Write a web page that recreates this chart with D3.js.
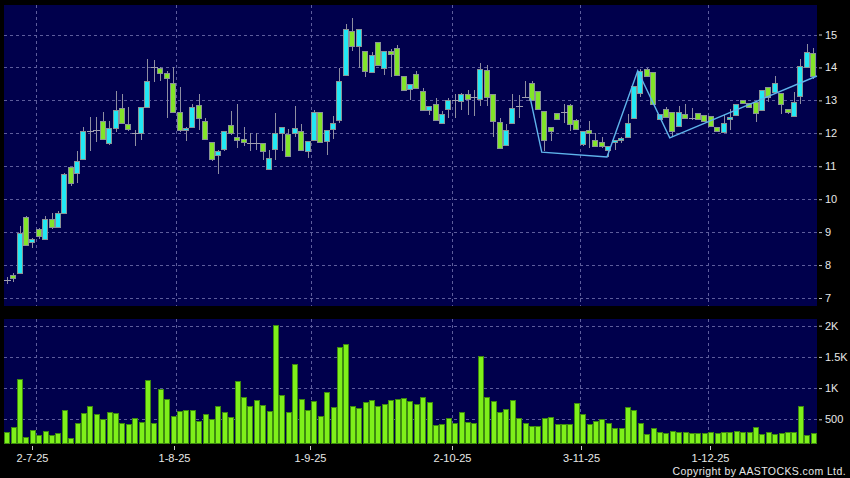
<!DOCTYPE html>
<html>
<head>
<meta charset="utf-8">
<script src="https://cdn.jsdelivr.net/npm/d3@7/dist/d3.min.js"></script>
<style>
  html, body { margin: 0; padding: 0; background: #000; }
  svg { display: block; }
  text { font-family: "Liberation Sans", Arial, sans-serif; fill: #e8e8e8; }
</style>
</head>
<body>
<div id="chart"></div>
<script>
var width = 850;
var height = 478;

// daily bars, 24-6-25 .. 23-12-25
var opens = [7.55, 7.71, 7.76, 9.46, 8.70, 9.08, 8.80, 9.40, 9.16, 9.58,
	10.98, 10.80, 11.23, 12.07, 12.09, 12.38, 11.72, 12.17, 12.78, 12.27,
	12.00, 12.00, 12.81, 14.00, 13.98, 13.82, 13.54, 12.66, 12.12, 12.20,
	12.85, 12.37, 11.73, 11.33, 11.51, 12.24, 11.90, 11.83, 11.72, 11.72,
	11.72, 10.92, 11.53, 12.01, 11.98, 12.01, 12.06, 11.45, 11.81, 12.66,
	11.78, 12.12, 12.41, 13.78, 15.10, 14.65, 14.51, 13.86, 14.77, 13.98,
	14.51, 14.58, 13.73, 13.35, 13.81, 13.29, 12.70, 12.90, 12.30, 12.73,
	13.00, 12.99, 13.20, 13.10, 13.04, 13.91, 13.20, 12.35, 11.65, 12.31,
	12.82, 13.11, 13.52, 13.27, 12.67, 12.18, 12.61, 12.64, 12.87, 12.41,
	11.68, 12.11, 11.81, 11.73, 11.48, 11.73, 11.80, 11.88, 12.46, 13.23,
	13.95, 13.86, 12.43, 12.73, 12.65, 12.21, 12.60, 12.48, 12.62, 12.57,
	12.52, 12.20, 12.05, 12.45, 12.55, 13.00, 12.92, 12.95, 12.70, 13.40,
	13.25, 13.22, 12.75, 12.53, 13.13, 14.00, 14.45];
var highs = [7.65, 7.76, 9.18, 9.48, 8.82, 9.13, 9.48, 9.58, 9.63, 10.80,
	10.98, 11.46, 12.19, 12.50, 12.50, 12.66, 12.38, 13.27, 13.20, 12.81,
	12.10, 12.81, 14.25, 14.22, 14.00, 13.88, 14.00, 13.40, 12.20, 12.90,
	13.18, 12.46, 11.73, 11.50, 12.08, 12.67, 12.90, 12.20, 12.00, 12.00,
	11.72, 11.50, 12.61, 12.20, 12.13, 12.82, 12.29, 11.76, 12.72, 12.66,
	12.11, 12.52, 13.98, 15.32, 15.50, 15.17, 14.51, 14.46, 14.77, 14.51,
	14.55, 14.69, 13.73, 13.50, 13.90, 13.39, 12.84, 13.07, 12.68, 13.08,
	13.18, 13.23, 13.30, 13.33, 14.12, 14.07, 13.20, 12.48, 12.28, 13.20,
	13.15, 13.60, 13.60, 13.27, 12.67, 12.20, 12.63, 12.90, 12.90, 12.42,
	12.08, 12.38, 12.01, 11.90, 11.61, 11.81, 11.90, 12.58, 13.45, 13.95,
	13.97, 13.86, 12.60, 12.81, 12.65, 12.83, 12.88, 12.77, 12.62, 12.57,
	12.52, 12.20, 12.55, 12.75, 12.88, 13.00, 12.92, 12.95, 13.32, 13.40,
	13.73, 13.22, 12.75, 13.25, 14.25, 14.70, 14.60];
var lows = [7.42, 7.50, 7.74, 8.58, 8.52, 8.80, 8.80, 9.09, 9.16, 9.58,
	10.40, 10.48, 11.23, 11.46, 11.75, 11.82, 11.66, 12.05, 12.30, 12.07,
	11.60, 11.80, 12.81, 13.55, 13.60, 12.48, 12.66, 12.05, 11.78, 12.15,
	12.11, 11.83, 11.17, 10.77, 11.46, 11.95, 11.55, 11.60, 11.45, 11.50,
	11.19, 10.92, 11.20, 11.45, 11.32, 11.88, 11.50, 11.25, 11.81, 11.73,
	11.33, 11.83, 12.30, 13.78, 14.50, 13.98, 13.71, 13.86, 14.08, 13.78,
	13.71, 13.78, 13.32, 13.02, 13.39, 12.68, 12.55, 12.40, 12.30, 12.45,
	12.45, 12.70, 12.55, 12.53, 12.83, 12.84, 11.90, 11.55, 11.65, 12.30,
	12.45, 13.10, 13.01, 12.74, 11.47, 11.76, 12.43, 12.30, 12.08, 12.13,
	11.60, 11.56, 11.58, 11.55, 11.28, 11.50, 11.72, 11.85, 12.46, 13.10,
	13.75, 12.90, 12.43, 12.50, 11.93, 12.21, 12.43, 12.40, 12.43, 12.38,
	12.20, 12.05, 12.05, 12.10, 12.55, 12.90, 12.80, 12.35, 12.70, 12.95,
	13.25, 12.60, 12.60, 12.50, 12.90, 14.00, 13.65];
var closes = [7.55, 7.60, 8.97, 8.60, 8.80, 8.87, 9.41, 9.16, 9.58, 10.77,
	10.50, 11.16, 12.07, 12.07, 12.09, 11.82, 12.15, 12.71, 12.30, 12.12,
	12.00, 12.81, 13.60, 14.00, 13.83, 13.68, 12.66, 12.10, 12.17, 12.81,
	12.46, 11.83, 11.22, 11.46, 12.08, 12.00, 11.80, 11.73, 11.72, 11.72,
	11.45, 11.24, 12.00, 12.20, 11.32, 12.15, 11.50, 11.76, 12.66, 11.73,
	12.11, 12.31, 13.60, 15.17, 14.65, 15.17, 13.89, 14.39, 14.08, 14.51,
	14.41, 13.78, 13.32, 13.50, 13.39, 12.71, 12.84, 12.40, 12.60, 13.00,
	13.00, 13.20, 13.03, 13.10, 13.94, 13.09, 12.38, 11.55, 12.11, 12.78,
	12.82, 13.11, 13.01, 12.74, 11.80, 12.08, 12.43, 12.64, 12.28, 12.13,
	12.08, 12.01, 11.61, 11.61, 11.61, 11.81, 11.87, 12.30, 13.45, 13.90,
	13.75, 12.90, 12.58, 12.51, 12.06, 12.65, 12.48, 12.48, 12.43, 12.38,
	12.23, 12.08, 12.30, 12.50, 12.88, 12.93, 12.80, 12.63, 13.30, 13.10,
	13.52, 12.88, 12.65, 12.95, 14.05, 14.48, 13.75];
var volumes = [301, 381, 1141, 221, 329, 248, 317, 248, 276, 649,
	196, 436, 596, 713, 585, 505, 617, 596, 436, 431,
	516, 452, 1130, 436, 986, 825, 553, 633, 649, 655,
	473, 585, 505, 708, 617, 532, 1119, 853, 713, 809,
	724, 638, 2012, 885, 617, 1382, 821, 649, 798, 553,
	933, 702, 1664, 1702, 713, 681, 777, 809, 708, 745,
	809, 821, 846, 793, 750, 853, 777, 404, 420, 521,
	441, 612, 452, 447, 1515, 853, 793, 617, 660, 804,
	521, 436, 393, 393, 527, 543, 431, 431, 420, 757,
	585, 431, 468, 505, 447, 356, 356, 702, 649, 447,
	265, 356, 292, 276, 313, 297, 292, 281, 281, 281,
	302, 286, 292, 297, 318, 292, 292, 381, 265, 292,
	270, 276, 292, 297, 708, 248, 281];

// drawn zigzag line (bar index, price)
var zigIndex = [81.8, 83.6, 93.8, 98.6, 103.6, 126.6];
var zigPrice = [13.07, 11.43, 11.28, 13.90, 11.86, 13.74];

var dateLabels = ["2-7-25", "1-8-25", "1-9-25", "2-10-25", "3-11-25", "1-12-25"];
var dateIndex = [5, 27, 48, 70, 90, 110];
var priceTicks = [7, 8, 9, 10, 11, 12, 13, 14, 15];
var volTicks = [500, 1000, 1500, 2000];
var volLabels = ["500", "1K", "1.5K", "2K"];

var panelLeft = 4, panelRight = 817;
var priceTop = 5, priceBottom = 306;
var volTop = 319, volBottom = 443;

var n = opens.length;
var xScale = d3.scaleLinear().domain([0, n - 1]).range([6.7, 813.1]);
// date labels sit on a slightly different (calendar) scale than the grid
var labelScale = d3.scaleLinear().domain([4.5, 109.5]).range([32.3, 710.3]);
var yScale = d3.scaleLinear().domain([7, 15]).range([298, 34.5]);
var vScale = d3.scaleLinear().domain([500, 2000]).range([419.3, 325.7]);

var svg = d3.select("#chart").append("svg")
	.attr("width", width)
	.attr("height", height);

svg.append("rect").attr("width", width).attr("height", height).attr("fill", "#000");

// panels
svg.append("rect")
	.attr("x", panelLeft).attr("y", priceTop)
	.attr("width", panelRight - panelLeft).attr("height", priceBottom - priceTop)
	.attr("fill", "#00004c");
svg.append("rect")
	.attr("x", panelLeft).attr("y", volTop)
	.attr("width", panelRight - panelLeft).attr("height", volBottom - volTop)
	.attr("fill", "#00004c");

var grid = svg.append("g")
	.attr("stroke", "#5d5d9c")
	.attr("stroke-width", 1)
	.attr("stroke-dasharray", "3,3")
	.attr("shape-rendering", "crispEdges");

grid.selectAll("line.h")
	.data(priceTicks)
	.enter().append("line")
	.attr("x1", panelLeft).attr("x2", panelRight)
	.attr("y1", function (d) { return Math.round(yScale(d)) + 0.5; })
	.attr("y2", function (d) { return Math.round(yScale(d)) + 0.5; });

grid.selectAll("line.vh")
	.data(volTicks)
	.enter().append("line")
	.attr("x1", panelLeft).attr("x2", panelRight)
	.attr("y1", function (d) { return Math.round(vScale(d)) + 0.5; })
	.attr("y2", function (d) { return Math.round(vScale(d)) + 0.5; });

dateIndex.forEach(function (d) {
	var gx = Math.round(xScale(d - 0.5)) + 0.5;
	grid.append("line").attr("x1", gx).attr("x2", gx).attr("y1", priceTop).attr("y2", priceBottom);
	grid.append("line").attr("x1", gx).attr("x2", gx).attr("y1", volTop).attr("y2", volBottom);
});

// volume bars
svg.append("g").selectAll("rect")
	.data(volumes)
	.enter().append("rect")
	.attr("x", function (d, i) { return Math.round(xScale(i) - 2.5); })
	.attr("y", function (d) { return Math.round(vScale(d)); })
	.attr("width", 5)
	.attr("height", function (d) { return volBottom - Math.round(vScale(d)); })
	.attr("fill", "#7ef01a")
	.attr("stroke", "#3d8a10")
	.attr("stroke-width", 1)
	.attr("shape-rendering", "crispEdges");

// candles
var bars = d3.range(n).map(function (i) {
	return { i: i, o: opens[i], h: highs[i], l: lows[i], c: closes[i] };
});

var cg = svg.append("g").attr("shape-rendering", "crispEdges");

cg.selectAll("line.wick")
	.data(bars)
	.enter().append("line")
	.attr("x1", function (d) { return Math.round(xScale(d.i)) + 0.5; })
	.attr("x2", function (d) { return Math.round(xScale(d.i)) + 0.5; })
	.attr("y1", function (d) { return yScale(d.h); })
	.attr("y2", function (d) { return yScale(d.l); })
	.attr("stroke", "#8e8ea0")
	.attr("stroke-width", 1);

cg.selectAll("rect.body")
	.data(bars.filter(function (d) { return d.o != d.c; }))
	.enter().append("rect")
	.attr("x", function (d) { return Math.round(xScale(d.i)) - 2.5; })
	.attr("y", function (d) { return Math.round(yScale(Math.max(d.o, d.c))) + 0.5; })
	.attr("width", 5)
	.attr("height", function (d) {
		return Math.max(2, Math.round(yScale(Math.min(d.o, d.c))) - Math.round(yScale(Math.max(d.o, d.c))));
	})
	.attr("fill", function (d) { return d.c > d.o ? "#22e8f4" : "#82e42a"; })
	.attr("stroke", "#8a9496")
	.attr("stroke-width", 1);

cg.selectAll("line.doji")
	.data(bars.filter(function (d) { return d.o == d.c; }))
	.enter().append("line")
	.attr("x1", function (d) { return Math.round(xScale(d.i)) - 3; })
	.attr("x2", function (d) { return Math.round(xScale(d.i)) + 4; })
	.attr("y1", function (d) { return Math.round(yScale(d.c)) + 0.5; })
	.attr("y2", function (d) { return Math.round(yScale(d.c)) + 0.5; })
	.attr("stroke", "#a0a0b0")
	.attr("stroke-width", 1);

// drawn line
var zig = zigIndex.map(function (d, k) { return [xScale(d), yScale(zigPrice[k])]; });
svg.append("path")
	.attr("d", d3.line()(zig))
	.attr("fill", "none")
	.attr("stroke", "#5fb4ec")
	.attr("stroke-width", 1.4);

// right axes
var yAxis = d3.axisRight(yScale).tickValues(priceTicks).tickSize(3).tickPadding(3);
var ya = svg.append("g").attr("transform", "translate(819,0)").call(yAxis);
var vAxis = d3.axisRight(vScale).tickValues(volTicks).tickSize(3).tickPadding(3)
	.tickFormat(function (d, k) { return volLabels[k]; });
var va = svg.append("g").attr("transform", "translate(819,0)").call(vAxis);
[ya, va].forEach(function (a) {
	a.select(".domain").remove();
	a.selectAll(".tick line").attr("stroke", "#c8c8c8");
	a.selectAll(".tick text")
		.attr("fill", "#ececec")
		.style("font-size", "11px")
		.style("font-family", "'Liberation Sans', Arial, sans-serif");
});

// date axis
var dg = svg.append("g");
dateIndex.forEach(function (d, k) {
	var tx = Math.round(labelScale(d - 0.5)) + 0.5;
	dg.append("line")
		.attr("x1", tx).attr("x2", tx)
		.attr("y1", 446).attr("y2", 450)
		.attr("stroke", "#c8c8c8");
	dg.append("text")
		.attr("x", tx)
		.attr("y", 462)
		.attr("text-anchor", "middle")
		.style("font-size", "11px")
		.text(dateLabels[k]);
});

svg.append("text")
	.attr("x", 846)
	.attr("y", 475)
	.attr("text-anchor", "end")
	.style("font-size", "10.5px")
	.style("letter-spacing", "0.4px")
	.text("Copyright by AASTOCKS.com Ltd.");
</script>
</body>
</html>
